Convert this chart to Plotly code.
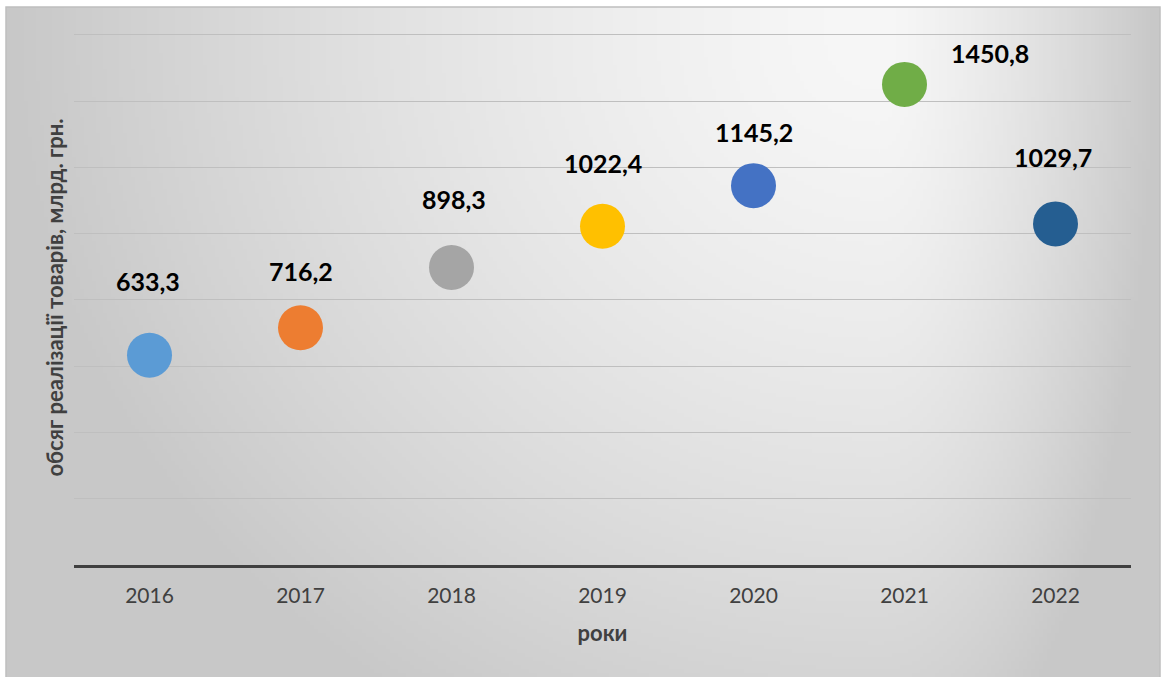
import base64
import struct
import zlib

import numpy as np
import plotly.graph_objects as go

# Sales volume of goods, bn UAH, by year
years = ["2016", "2017", "2018", "2019", "2020", "2021", "2022"]
sales = [633.3, 716.2, 898.3, 1022.4, 1145.2, 1450.8, 1029.7]

point_colors = ["#5B9BD5", "#ED7D31", "#A5A5A5", "#FFC000",
                "#4472C4", "#70AD47", "#255E91"]

# label offsets (px) from each marker centre
label_dx = [-2, 0, 2, 0, 0, 85, -3]
label_dy = [74, 57, 68, 63, 54, 31, 67]

Y_MAX = 1615  # headroom so the 1600 gridline is drawn inside the plot

W, H = 1166, 677
L, R, T, B = 74, 35, 30, 112
plot_w = W - L - R
plot_h = H - T - B

# chart frame in pixels
fx0, fy0, fx1, fy1 = 6, 7, 1160, 679


def gradient_png(w, h):
    """Grey radial fill, light near the upper right, darker toward the edges."""
    xs = np.linspace(fx0, fx1, w)
    ys = np.linspace(fy0, fy1, h)
    X, Y = np.meshgrid(xs, ys)
    cx, cy = 880.0, 40.0
    u = np.where(X < cx, (cx - X) / (cx - fx0), (X - cx) / (fx1 - cx))
    v = np.clip((Y - cy) / (fy1 - cy), 0, None) * 0.8
    d = np.clip(np.sqrt(u ** 2 + v ** 2), 0, 1)
    g = (247 - 47 * d ** 1.4).astype(np.uint8)
    raw = b"".join(b"\x00" + row.tobytes() for row in g)

    def chunk(tag, data):
        c = struct.pack(">I", len(data)) + tag + data
        return c + struct.pack(">I", zlib.crc32(tag + data) & 0xFFFFFFFF)

    png = b"\x89PNG\r\n\x1a\n"
    png += chunk(b"IHDR", struct.pack(">IIBBBBB", w, h, 8, 0, 0, 0, 0))
    png += chunk(b"IDAT", zlib.compress(raw, 9))
    png += chunk(b"IEND", b"")
    return "data:image/png;base64," + base64.b64encode(png).decode()


def px_to_paper_x(px):
    return (px - L) / plot_w


def px_to_paper_y(py):
    return (H - B - py) / plot_h


fig = go.Figure()
fig.add_trace(go.Scatter(
    x=years, y=sales, mode="markers",
    marker=dict(size=45, color=point_colors, line=dict(width=0)),
    hoverinfo="x+y", showlegend=False,
))

# value labels; on a category axis the annotation x is the category index
for i, val in enumerate(sales):
    fig.add_annotation(
        x=i, y=val, xref="x", yref="y",
        text=f"{val:.1f}".replace(".", ","),
        showarrow=False, xshift=label_dx[i], yshift=label_dy[i],
        font=dict(family="Lato", size=25, color="#000000", weight="bold"),
        xanchor="center", yanchor="middle",
    )

fig.add_layout_image(
    source=gradient_png(290, 168),
    xref="paper", yref="paper",
    x=px_to_paper_x(fx0), y=px_to_paper_y(fy0),
    sizex=(fx1 - fx0) / plot_w, sizey=(fy1 - fy0) / plot_h,
    xanchor="left", yanchor="top", sizing="stretch", layer="below",
)

fig.add_shape(
    type="rect", xref="paper", yref="paper",
    x0=px_to_paper_x(fx0), x1=px_to_paper_x(fx1),
    y0=px_to_paper_y(fy1), y1=px_to_paper_y(fy0),
    line=dict(color="#BFBFBF", width=1.5), fillcolor="rgba(0,0,0,0)",
    layer="above",
)

fig.update_layout(
    width=W, height=H,
    margin=dict(l=L, r=R, t=T, b=B),
    paper_bgcolor="#FFFFFF",
    plot_bgcolor="rgba(0,0,0,0)",
    font=dict(family="Lato", color="#404040"),
    xaxis=dict(
        type="category", range=[-0.5, 6.5],
        showgrid=False, ticks="", showline=True,
        linecolor="#404040", linewidth=3,
        tickfont=dict(size=21, color="#404040"),
        ticklabelstandoff=10,
        title=dict(text="роки", standoff=20,
                   font=dict(size=22, color="#404040", weight="bold")),
    ),
    yaxis=dict(
        range=[0, Y_MAX], dtick=200, showticklabels=False,
        showgrid=True, gridcolor="#BFBFBF", gridwidth=1,
        zeroline=False, ticks="",
        title=dict(text="обсяг реалізації товарів, млрд. грн.", standoff=3,
                   font=dict(size=22, color="#404040", weight="bold")),
    ),
)

fig.write_html("out.html")
